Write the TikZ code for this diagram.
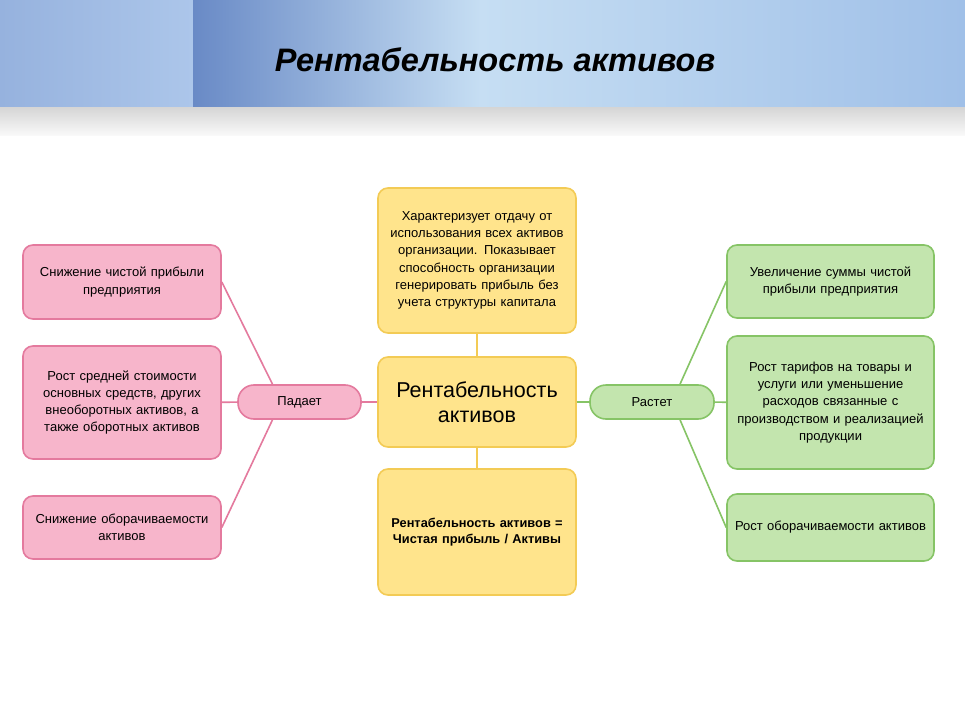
\documentclass[tikz,border=0pt]{standalone}
\usepackage{fontspec}
\setmainfont{Liberation Sans}
\usetikzlibrary{positioning}

\definecolor{pinkfill}{HTML}{F7B5CB}
\definecolor{pinkline}{HTML}{E47A9E}
\definecolor{greenfill}{HTML}{C3E5AE}
\definecolor{greenline}{HTML}{86C466}
\definecolor{yellowfill}{HTML}{FFE48C}
\definecolor{yellowline}{HTML}{F3CB55}

\tikzset{
  box/.style={draw, line width=1.6pt, rounded corners=10pt, align=center,
    inner sep=1pt, font=\fontsize{13}{17.3}\selectfont},
  minus/.style={box, fill=pinkfill, draw=pinkline},
  plus/.style={box, fill=greenfill, draw=greenline},
  core/.style={box, fill=yellowfill, draw=yellowline},
  pill/.style={rounded corners=16pt, minimum height=34pt},
  link/.style={line width=1.6pt},
}

\begin{document}
\begin{tikzpicture}[x=1pt, y=-1pt]
  \useasboundingbox (0,0) rectangle (965,703);
  % header
  \fill[white] (0,0) rectangle (965,703);
  \shade[left color={rgb,255:red,150;green,178;blue,222}, right color={rgb,255:red,172;green,198;blue,234}] (0,0) rectangle (193,108);
  \shade[left color={rgb,255:red,105;green,138;blue,198}, right color={rgb,255:red,198;green,222;blue,243}] (193,0) rectangle (480,108);
  \shade[left color={rgb,255:red,198;green,222;blue,243}, right color={rgb,255:red,160;green,192;blue,232}] (480,0) rectangle (965,108);
  \shade[top color=black!16, bottom color=black!2] (0,108) rectangle (965,136);
  \node[font=\fontsize{32.5}{38}\selectfont\bfseries\itshape] (title) at (495,60) {Рентабельность активов};

  % centre column
  \node[core, minimum width=198pt, minimum height=90pt, text width=190pt,
    font=\fontsize{21.5}{25.5}\selectfont] (roa) at (477,402) {Рентабельность\\активов};
  \node[core, minimum width=198pt, minimum height=145pt, text width=192pt] (about) at (477,260.5)
    {Характеризует отдачу от\\использования всех активов\\организации. Показывает\\способность организации\\генерировать прибыль без\\учета структуры капитала};
  \node[core, minimum width=198pt, minimum height=126pt, text width=192pt,
    font=\fontsize{12.8}{16.5}\selectfont\bfseries] (formula) at (477,532)
    {Рентабельность активов =\\Чистая прибыль / Активы};

  % left side
  \node[minus, pill, minimum width=123pt] (fall) at (299.5,402) {Падает};
  \node[minus, minimum width=198pt, minimum height=74pt, text width=192pt] (m1) at (122,282)
    {Снижение чистой прибыли\\предприятия};
  \node[minus, minimum width=198pt, minimum height=113pt, text width=192pt] (m2) at (122,402.5)
    {Рост средней стоимости\\основных средств, других\\внеоборотных активов, а\\также оборотных активов};
  \node[minus, minimum width=198pt, minimum height=63pt, text width=192pt] (m3) at (122,527.5)
    {Снижение оборачиваемости\\активов};

  % right side
  \node[plus, pill, minimum width=124pt] (rise) at (652,402) {Растет};
  \node[plus, minimum width=207pt, minimum height=73pt, text width=203pt] (p1) at (830.5,281.5)
    {Увеличение суммы чистой\\прибыли предприятия};
  \node[plus, minimum width=207pt, minimum height=133pt, text width=203pt] (p2) at (830.5,402.5)
    {Рост тарифов на товары и\\услуги или уменьшение\\расходов связанные с\\производством и реализацией\\продукции};
  \node[plus, minimum width=207pt, minimum height=67pt, text width=203pt] (p3) at (830.5,527.5)
    {Рост оборачиваемости активов};

  % connectors
  \draw[link, yellowline] (about) -- (roa);
  \draw[link, yellowline] (roa) -- (formula);
  \draw[link, pinkline] (fall) -- (roa);
  \draw[link, pinkline] ([xshift=-27pt]fall.north) -- (m1.east);
  \draw[link, pinkline] (fall) -- (m2);
  \draw[link, pinkline] ([xshift=-27pt]fall.south) -- (m3.east);
  \draw[link, greenline] (roa) -- (rise);
  \draw[link, greenline] ([xshift=28pt]rise.north) -- (p1.west);
  \draw[link, greenline] (rise) -- (p2);
  \draw[link, greenline] ([xshift=28pt]rise.south) -- (p3.west);
\end{tikzpicture}
\end{document}
